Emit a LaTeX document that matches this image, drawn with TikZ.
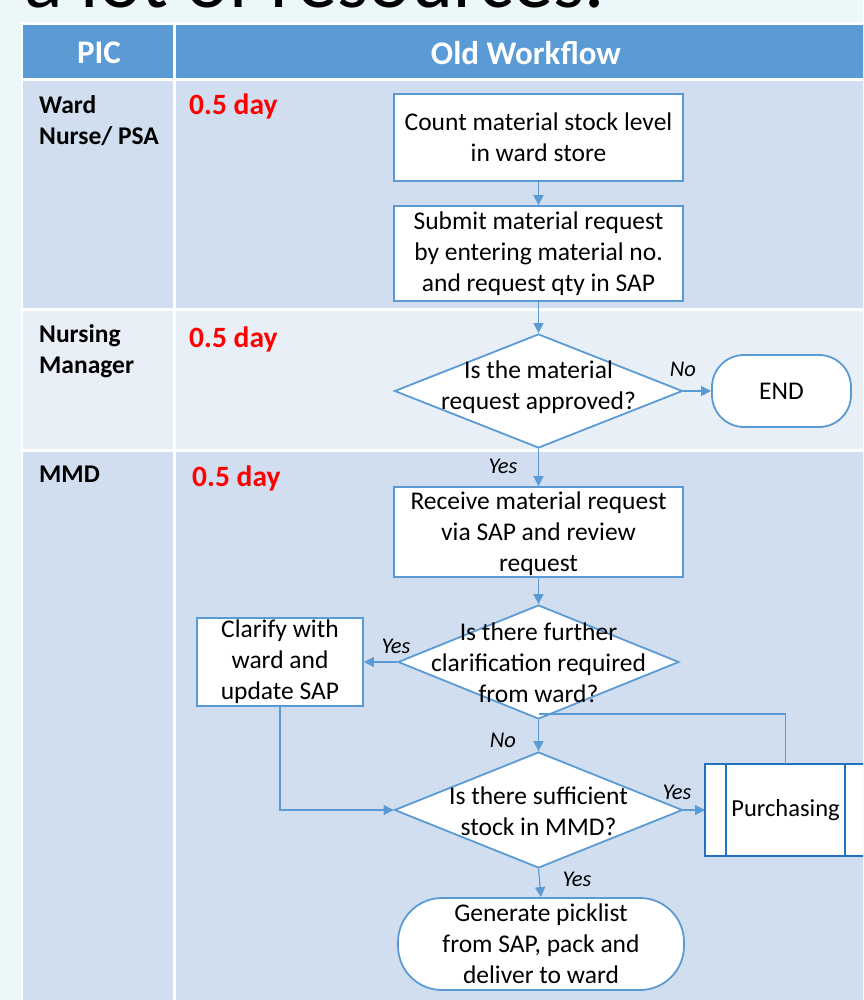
\documentclass[tikz,border=0pt]{standalone}
\usepackage{fontspec}
\setmainfont{Carlito}
\usetikzlibrary{arrows.meta,shapes.geometric}
\definecolor{bgc}{HTML}{EBF7F9}
\definecolor{hdr}{HTML}{5B9BD5}
\definecolor{rowd}{HTML}{D0DEEF}
\definecolor{rowl}{HTML}{E9EFF7}
\definecolor{lnc}{HTML}{5B9BD5}
\definecolor{pbc}{HTML}{2271C0}
\definecolor{redt}{HTML}{FF0000}
\begin{document}
\begin{tikzpicture}[x=1pt,y=-1pt,
  every node/.style={inner sep=0pt},
  txt/.style={font=\fontsize{25.5}{31}\selectfont, align=center},
  box/.style={txt, rectangle, draw=lnc, line width=1.8pt, fill=white},
  dia/.style={diamond, draw=lnc, line width=1.8pt, fill=white},
  term/.style={txt, rectangle, draw=lnc, line width=1.8pt, fill=white},
  hdrtxt/.style={font=\fontsize{33}{38}\selectfont\bfseries, text=white},
  pictxt/.style={font=\fontsize{25.5}{31}\selectfont\bfseries, align=left, anchor=west},
  daytxt/.style={font=\fontsize{29.5}{34}\selectfont\bfseries, text=redt, anchor=west},
  lbl/.style={font=\fontsize{22.5}{27}\selectfont\itshape},
  ln/.style={draw=lnc, line width=1.2pt},
  arr/.style={ln, -{Triangle[length=10pt,width=10pt]}}
]
\useasboundingbox (0,0) rectangle (863,1000);
\clip (0,0) rectangle (863,1000);
% background and table
\fill[bgc] (0,0) rectangle (863,1000);
\node[anchor=base west, font=\fontsize{80}{96}\selectfont] (title) at (-36,8) {o a lot of resources.};
\fill[white] (21,22) rectangle (900,1010);
\fill[hdr] (23,25) rectangle (173,78);
\fill[hdr] (176,25) rectangle (900,78);
\fill[rowd] (23,81) rectangle (173,308);
\fill[rowd] (176,81) rectangle (900,308);
\fill[rowl] (23,311) rectangle (173,449);
\fill[rowl] (176,311) rectangle (900,449);
\fill[rowd] (23,452) rectangle (173,1010);
\fill[rowd] (176,452) rectangle (900,1010);
\node[hdrtxt] (hpic) at (99,53) {PIC};
\node[hdrtxt] (hwf) at (526,53) {Old Workflow};
% lane labels
\node[pictxt] (p1) at (39,121) {Ward\\Nurse/ PSA};
\node[pictxt] (p2) at (39,351) {Nursing\\Manager};
\node[pictxt] (p3) at (39,474) {MMD};
\node[daytxt] (t1) at (189,106) {0.5 day};
\node[daytxt] (t2) at (189,339) {0.5 day};
\node[daytxt] (t3) at (192,478) {0.5 day};
% flow nodes
\node[box, minimum width=289pt, minimum height=87pt] (count) at (538.5,137.5) {Count material stock level\\in ward store};
\node[box, minimum width=289pt, minimum height=95pt] (submit) at (538.5,253.5) {Submit material request\\by entering material no.\\and request qty in SAP};
\node[dia, minimum width=288pt, minimum height=114pt, label={[txt, yshift=4pt]center:Is the material\\request approved?}] (d1) at (538.5,391) {};
\node[term, minimum width=139pt, minimum height=72pt, rounded corners=32pt] (end) at (781.5,391) {END};
\node[box, minimum width=289pt, minimum height=90pt, label={[txt, yshift=-2pt]center:Receive material request\\via SAP and review\\request}] (recv) at (538.5,532) {};
\node[dia, minimum width=281pt, minimum height=114pt, label={[txt, yshift=-1pt]center:Is there further\\clarification required\\from ward?}] (d2) at (538.5,662) {};
\node[box, minimum width=166pt, minimum height=88pt] (clar) at (280,662) {Clarify with\\ward and\\update SAP};
\node[dia, minimum width=288pt, minimum height=116pt, label={[txt, yshift=-1pt]center:Is there sufficient\\stock in MMD?}] (d3) at (538.5,810) {};
\node[txt, rectangle, draw=pbc, line width=2.4pt, fill=white, outer sep=0pt, minimum width=161pt, minimum height=92pt, font=\fontsize{24.5}{30}\selectfont] (purch) at (785.5,810) {Purchasing};
\draw[pbc, line width=2.2pt] ([xshift=21pt]purch.north west) -- ([xshift=21pt]purch.south west);
\draw[pbc, line width=2.2pt] ([xshift=-21pt]purch.north east) -- ([xshift=-21pt]purch.south east);
\node[term, minimum width=286pt, minimum height=92pt, rounded corners=44pt] (gen) at (541,944) {Generate picklist\\from SAP, pack and\\deliver to ward};
\coordinate (j) at (538.5,714);
% connectors
\draw[arr] (count) -- (submit);
\draw[arr] (submit) -- (d1);
\draw[arr] (d1.east) -- (end.west) node[lbl] at (683,369) {No};
\draw[arr] (d1.south) -- (recv.north) node[lbl] at (503,466) {Yes};
\draw[arr] (recv.south) -- (d2.north);
\draw[arr] (d2.west) -- (clar.east) node[lbl] at (396,646) {Yes};
\draw[ln] (purch.north) |- (j);
\draw[arr] (d2.south) -- (d3.north) node[lbl] at (503,740) {No};
\draw[arr] (clar.south) |- (d3.west);
\draw[arr] (d3.east) -- (purch.west) node[lbl] at (677,792) {Yes};
\draw[arr] (d3.south) -- (gen.north) node[lbl] at (577,879) {Yes};
\end{tikzpicture}
\end{document}
